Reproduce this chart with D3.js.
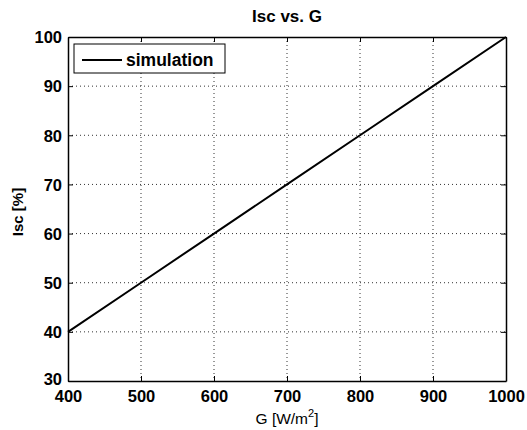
<!DOCTYPE html>
<html>
<head>
<meta charset="utf-8">
<script src="https://cdn.jsdelivr.net/npm/d3@7"></script>
<style>
  body { margin: 0; background: #fff; }
  text { font-family: Arial, "Liberation Sans", sans-serif; }
</style>
</head>
<body>
<div id="chart"></div>
<script>
// Data
const gValues = [400, 500, 600, 700, 800, 900, 1000];
const iscValues = [40, 50, 60, 70, 80, 90, 100];
const xTicks = [400, 500, 600, 700, 800, 900, 1000];
const yTicks = [30, 40, 50, 60, 70, 80, 90, 100];
const seriesName = "simulation";

const W = 527, H = 430;
const margin = { top: 37, right: 21, bottom: 49, left: 68 };
const width = W - margin.left - margin.right;
const height = H - margin.top - margin.bottom;

const svg = d3.select("#chart").append("svg")
    .attr("width", W)
    .attr("height", H);

const g = svg.append("g")
    .attr("transform", "translate(" + margin.left + "," + margin.top + ")");

const x = d3.scaleLinear().domain([400, 1000]).range([0, width]);
const y = d3.scaleLinear().domain([30, 100]).range([height, 0]);

// Dotted grid
g.selectAll(".vgrid")
    .data(xTicks.slice(1, -1))
    .enter().append("line")
    .attr("x1", d => x(d)).attr("x2", d => x(d))
    .attr("y1", 0).attr("y2", height)
    .attr("stroke", "#333")
    .attr("stroke-width", 1)
    .attr("stroke-dasharray", "1,3");

g.selectAll(".hgrid")
    .data(yTicks.slice(1, -1))
    .enter().append("line")
    .attr("y1", d => y(d)).attr("y2", d => y(d))
    .attr("x1", 0).attr("x2", width)
    .attr("stroke", "#333")
    .attr("stroke-width", 1)
    .attr("stroke-dasharray", "1,3");

// Axes with inward ticks
const fmt = d3.format("d");
const xAxis = g.append("g")
    .attr("transform", `translate(0,${height})`)
    .call(d3.axisBottom(x).tickValues(xTicks).tickFormat(fmt).tickSizeInner(-5).tickSizeOuter(0).tickPadding(9));
const yAxis = g.append("g")
    .call(d3.axisLeft(y).tickValues(yTicks).tickFormat(fmt).tickSizeInner(-5).tickSizeOuter(0).tickPadding(6));

g.append("g")
    .call(d3.axisTop(x).tickValues(xTicks).tickSizeInner(-5).tickSizeOuter(0).tickFormat(""));
g.append("g")
    .attr("transform", `translate(${width},0)`)
    .call(d3.axisRight(y).tickValues(yTicks).tickSizeInner(-5).tickSizeOuter(0).tickFormat(""));

svg.selectAll(".domain").attr("stroke", "#000").attr("stroke-width", 1.5);
svg.selectAll(".tick line").attr("stroke", "#000");

[xAxis, yAxis].forEach(a => a.selectAll("text")
    .style("font-size", "16.5px")
    .style("font-weight", "bold")
    .attr("fill", "#000"));
yAxis.selectAll("text").attr("dy", d => d === 30 ? "0.22em" : "0.35em");

// Line
const line = d3.line()
    .x((d, i) => x(gValues[i]))
    .y(d => y(d));

g.append("path")
    .datum(iscValues)
    .attr("fill", "none")
    .attr("stroke", "#000")
    .attr("stroke-width", 2)
    .attr("d", line);

// Legend
const legend = g.append("g").attr("transform", "translate(6,7)");
legend.append("rect")
    .attr("width", 151).attr("height", 29)
    .attr("fill", "#fff")
    .attr("stroke", "#000")
    .attr("stroke-width", 1);
legend.append("line")
    .attr("x1", 8).attr("x2", 48)
    .attr("y1", 16).attr("y2", 16)
    .attr("stroke", "#000").attr("stroke-width", 2);
legend.append("text")
    .attr("x", 52).attr("y", 22)
    .style("font-size", "17.5px")
    .style("font-weight", "bold")
    .text(seriesName);

// Title
svg.append("text")
    .attr("x", margin.left + width / 2)
    .attr("y", 22)
    .attr("text-anchor", "middle")
    .style("font-size", "17px")
    .style("font-weight", "bold")
    .text("Isc vs. G");

// X label
const xl = svg.append("text")
    .attr("x", margin.left + width / 2)
    .attr("y", 424)
    .attr("text-anchor", "middle")
    .style("font-size", "15.5px");
xl.append("tspan").text("G [W/m");
xl.append("tspan").attr("dy", "-7").style("font-size", "11px").text("2");
xl.append("tspan").attr("dy", "7").text("]");

// Y label
svg.append("text")
    .attr("transform", "rotate(-90)")
    .attr("x", -(margin.top + height / 2 + 3))
    .attr("y", 23)
    .attr("text-anchor", "middle")
    .style("font-size", "15px")
    .style("font-weight", "bold")
    .text("Isc [%]");
</script>
</body>
</html>
